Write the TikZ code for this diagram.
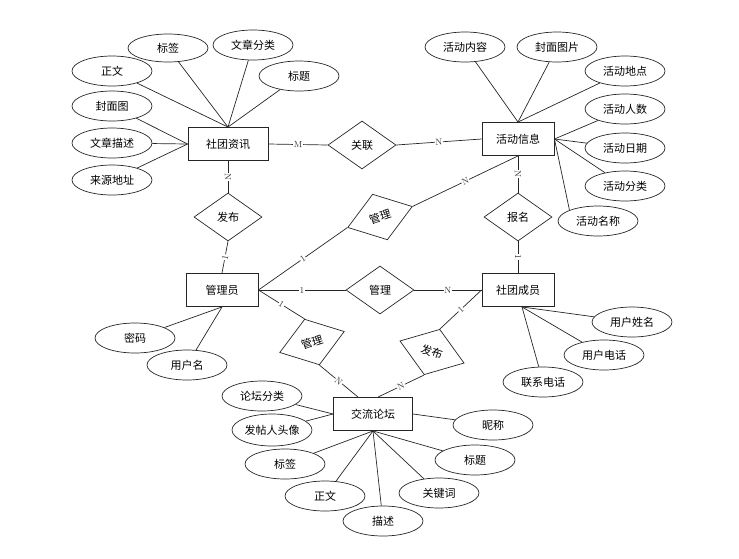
\documentclass[tikz,border=0pt]{standalone}
\usepackage{fontspec}
\newfontfamily\cjk{Noto Sans CJK SC}
\usetikzlibrary{shapes.geometric,positioning}

\begin{document}
\begin{tikzpicture}[x=1pt,y=-1pt, line width=0.7pt, color=black!85,
		every node/.style={font=\cjk\fontsize{11}{13}\selectfont, text=black},
		entity/.style={rectangle, draw, line width=0.9pt, minimum width=72pt, minimum height=33pt},
		attr/.style={ellipse, draw, minimum width=80pt, minimum height=30pt, inner sep=0pt},
		rel/.style={diamond, draw, aspect=1.4, minimum width=68pt, minimum height=48pt, inner sep=0pt},
		card/.style={font=\fontsize{9}{10}\selectfont, fill=white, inner sep=0.6pt, sloped, text=black!80}]
		\useasboundingbox (0,0) rectangle (739,558);
		% entities
		\node [entity, minimum width=80pt] (zx) at (228,144) {社团资讯};
		\node [entity] (hd) at (518,139) {活动信息};
		\node [entity] (gly) at (222,290) {管理员};
		\node [entity] (cy) at (518,290) {社团成员};
		\node [entity, minimum width=79pt] (lt) at (373,414) {交流论坛};
		
		% relations
		\node [rel] (gl) at (362,145) {关联};
		\node [rel] (fb) at (228,217) {发布};
		\node [rel, rotate=18] (gl1) at (380,217) {管理};
		\node [rel] (bm) at (518,217) {报名};
		\node [rel] (gl2) at (380,290) {管理};
		\node [rel, rotate=18] (gl3) at (312,342) {管理};
		\node [rel, rotate=-19] (fb2) at (432,352) {发布};
		
		% attributes
		\node [attr] (zw) at (112,71) {正文};
		\node [attr, minimum height=28pt] (bq) at (168,48) {标签};
		\node [attr] (wzfl) at (253,45) {文章分类};
		\node [attr] (bt) at (299,76) {标题};
		\node [attr] (fmt) at (112,106) {封面图};
		\node [attr] (wzms) at (112,143) {文章描述};
		\node [attr] (lydz) at (112,180) {来源地址};
		
		\node [attr] (hdnr) at (465,47) {活动内容};
		\node [attr] (fmtp) at (557,47) {封面图片};
		\node [attr] (hddd) at (625,71) {活动地点};
		\node [attr] (hdrs) at (625,109) {活动人数};
		\node [attr] (hdrq) at (625,148) {活动日期};
		\node [attr] (hdfl) at (625,186) {活动分类};
		\node [attr] (hdmc) at (598,221) {活动名称};
		
		\node [attr] (mm) at (135,338) {密码};
		\node [attr] (yhm) at (187,365) {用户名};
		
		\node [attr] (yhxm) at (632,322) {用户姓名};
		\node [attr] (yhdh) at (604,355) {用户电话};
		\node [attr] (lxdh) at (543,382) {联系电话};
		
		\node [attr] (ltfl) at (262,396) {论坛分类};
		\node [attr, minimum height=32pt] (ftr) at (272,430) {发帖人头像};
		\node [attr] (ltbq) at (285,464) {标签};
		\node [attr] (ltzw) at (325,496) {正文};
		\node [attr] (ltms) at (383,521) {描述};
		\node [attr] (gjc) at (439,493) {关键词};
		\node [attr] (ltbt) at (475,460) {标题};
		\node [attr] (nc) at (493,425) {昵称};
		
		% relationships
		\draw (zx.east) -- node [card] {M} (gl.west);
		\draw (gl.east) -- node [card] {N} (hd.west);
		\draw (zx.south) -- node [card] {N} (fb.north);
		\draw (fb.south) -- node [card] {1} (gly.north);
		\draw (gly.east) -- node [card] {1} (gl1.west);
		\draw (gl1.east) -- node [card] {N} (hd.south);
		\draw (hd.south) -- node [card] {N} (bm.north);
		\draw (bm.south) -- node [card] {1} (cy.north);
		\draw (gly.east) -- node [card] {1} (gl2.west);
		\draw (gl2.east) -- node [card] {N} (cy.west);
		\draw (gly.east) -- node [card] {1} (gl3.north);
		\draw (gl3.south) -- node [card] {N} ([xshift=-15pt]lt.north);
		\draw ([xshift=5pt]lt.north) -- node [card] {N} (fb2.south);
		\draw (fb2.north) -- node [card] {1} (cy.west);
		
		% attribute lines
		\foreach \a in {zw,bq,wzfl,bt} \draw (\a) -- (zx.north);
		\foreach \a in {fmt,wzms,lydz} \draw (\a) -- (zx.west);
		\foreach \a in {hdnr,fmtp,hddd} \draw (\a) -- (hd.north);
		\foreach \a in {hdrs,hdrq,hdfl} \draw (\a) -- (hd.east);
		\draw (hdmc.north west) -- (hd.east);
		\foreach \a in {mm,yhm} \draw (\a) -- (gly.south);
		\foreach \a in {yhxm,yhdh,lxdh} \draw (\a) -- ([xshift=4pt]cy.south);
		\foreach \a in {ltfl,ftr} \draw (\a) -- (lt.west);
		\draw (nc) -- (lt.east);
		\foreach \a in {ltbq,ltzw,ltms,gjc,ltbt} \draw (\a) -- (lt.south);
	\end{tikzpicture}
\end{document}
